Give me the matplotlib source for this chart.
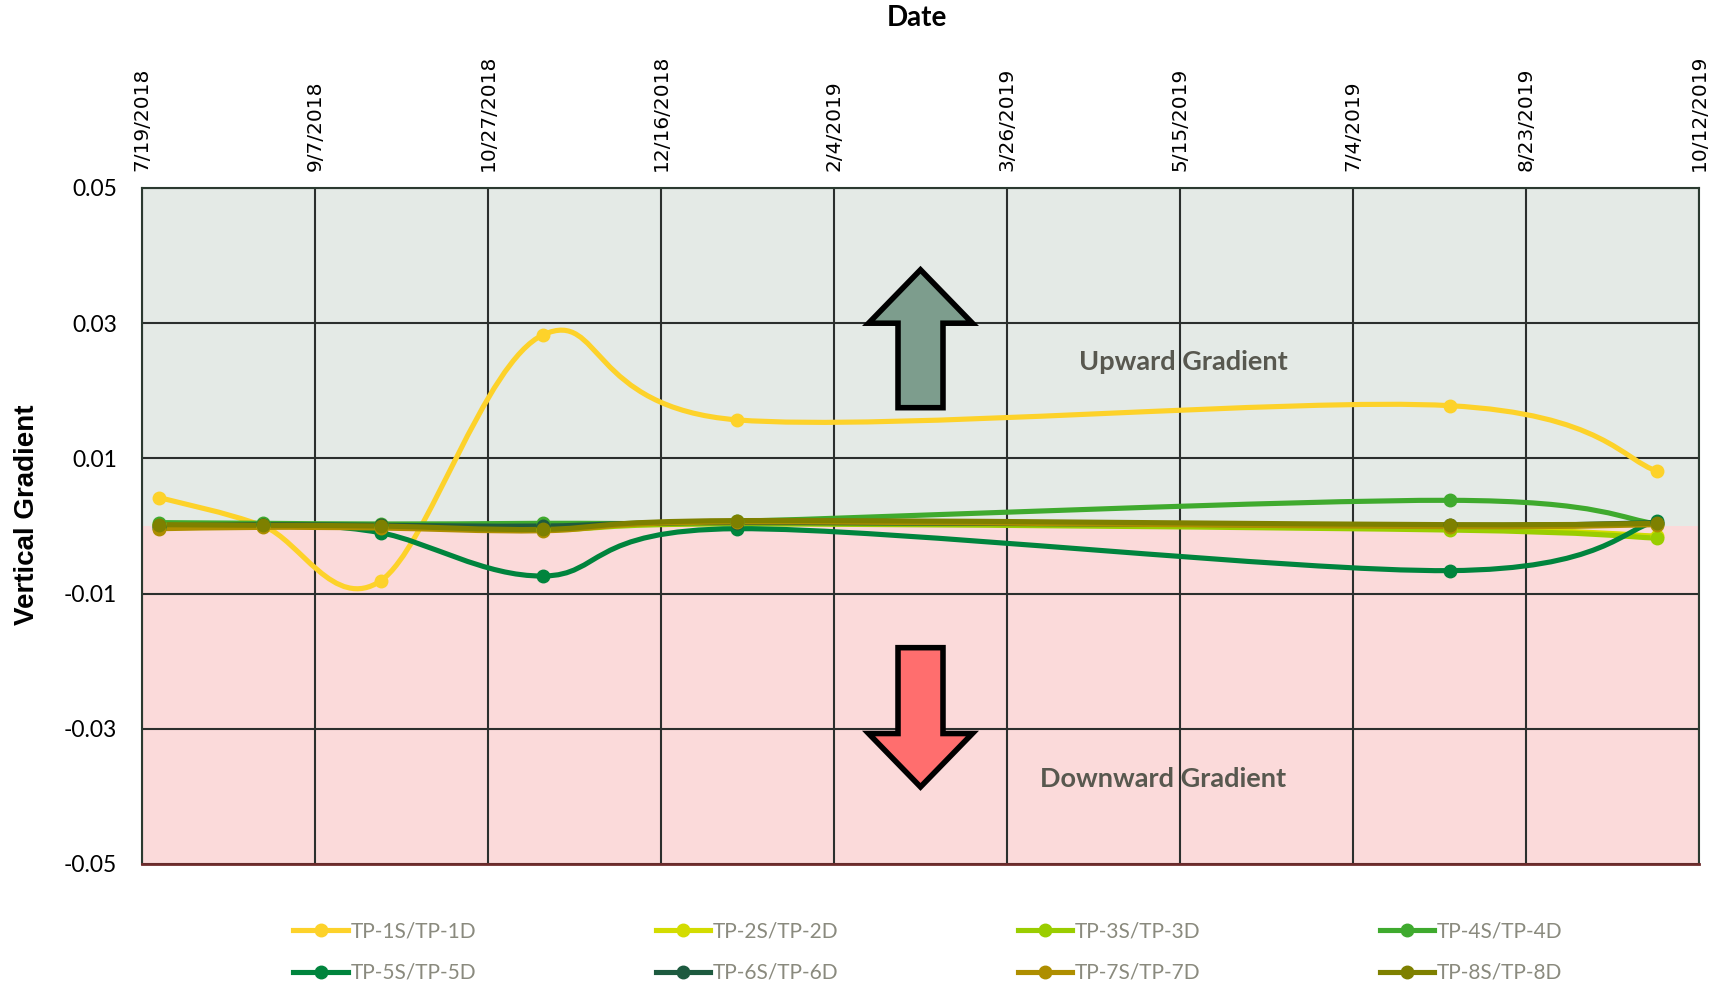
import numpy as np
import matplotlib
matplotlib.use("Agg")
import matplotlib.pyplot as plt
import matplotlib.dates as mdates
from matplotlib.path import Path
from matplotlib.patches import PathPatch
import datetime as dt

# sample dates and vertical gradients
sample_dates = ["2018-07-24", "2018-08-23", "2018-09-26", "2018-11-12",
                "2019-01-07", "2019-08-01", "2019-09-30"]
tp1 = [0.0042, 0.0000, -0.0081, 0.0283, 0.0157, 0.0178, 0.0081]
tp2 = [0.0003, 0.0001, 0.0000, -0.0004, 0.0004, -0.0004, -0.0015]
tp3 = [0.0002, 0.0000, 0.0001, -0.0006, 0.0003, -0.0006, -0.0018]
tp4 = [0.0005, 0.0004, 0.0003, 0.0004, 0.0007, 0.0038, 0.0003]
tp5 = [-0.0003, 0.0001, -0.0010, -0.0074, -0.0004, -0.0066, 0.0008]
tp6 = [0.0000, 0.0002, 0.0001, 0.0000, 0.0005, 0.0001, 0.0005]
tp7 = [-0.0004, -0.0002, -0.0003, -0.0007, 0.0006, -0.0001, 0.0002]
tp8 = [0.0002, 0.0001, 0.0000, -0.0005, 0.0008, 0.0002, 0.0004]

labels = ["TP-1S/TP-1D", "TP-2S/TP-2D", "TP-3S/TP-3D", "TP-4S/TP-4D",
          "TP-5S/TP-5D", "TP-6S/TP-6D", "TP-7S/TP-7D", "TP-8S/TP-8D"]
series = [tp1, tp2, tp3, tp4, tp5, tp6, tp7, tp8]
colors = ["#FDD22A", "#D3DC00", "#9ACD00", "#3FAA2E",
          "#00843D", "#1D5A3F", "#AE8E00", "#7E8000"]

y_ticks = [0.05, 0.03, 0.01, -0.01, -0.03, -0.05]
x_start = dt.date(2018, 7, 19)
x_step_days = 50
n_x_ticks = 10

calibri_like = ["Lato", "DejaVu Sans"]


def smooth_path(x, y):
    # excel-style smoothed line: cubic bezier through the points
    x = np.asarray(x, dtype=float)
    y = np.asarray(y, dtype=float)
    pts = np.column_stack([x, y])
    n = len(pts)
    verts = [pts[0]]
    codes = [Path.MOVETO]
    for i in range(n - 1):
        p0 = pts[i - 1] if i > 0 else pts[i]
        p1 = pts[i]
        p2 = pts[i + 1]
        p3 = pts[i + 2] if i + 2 < n else pts[i + 1]
        c1 = p1 + (p2 - p0) / 6.0
        c2 = p2 - (p3 - p1) / 6.0
        verts += [c1, c2, p2]
        codes += [Path.CURVE4] * 3
    return Path(verts, codes)


xd = mdates.date2num([dt.date.fromisoformat(d) for d in sample_dates])
x_ticks = [x_start + dt.timedelta(days=x_step_days * i) for i in range(n_x_ticks)]
x_tick_nums = mdates.date2num(x_ticks)

fig = plt.figure(figsize=(17.17, 9.89), dpi=100)
ax = fig.add_axes([142 / 1717, 1 - 864 / 989, (1699 - 142) / 1717, (864 - 188) / 989])

ax.set_xlim(x_tick_nums[0], x_tick_nums[-1])
ax.set_ylim(-0.05, 0.05)

# background zones
ax.axhspan(0, 0.05, facecolor="#e4eae6", edgecolor="none", zorder=0)
ax.axhspan(-0.05, 0, facecolor="#fbdada", edgecolor="none", zorder=0)

ax.set_xticks(x_tick_nums)
ax.set_yticks(y_ticks)
ax.grid(True, color="#2b2f2d", linewidth=1.5, zorder=1)
ax.set_axisbelow(True)

for y, c, lab in zip(series, colors, labels):
    patch = PathPatch(smooth_path(xd, y), facecolor="none", edgecolor=c,
                      linewidth=3.7, capstyle="round", joinstyle="round", zorder=3)
    ax.add_patch(patch)
    ax.plot(xd, y, linestyle="none", marker="o", markersize=9, color=c, zorder=4)

# arrows
arrow_x = mdates.date2num(dt.date(2019, 3, 1))
ax.arrow(arrow_x, 0.0175, 0, 0.0204, width=13, head_width=30, head_length=0.0079,
         length_includes_head=True, facecolor="#7d9d8d", edgecolor="black",
         linewidth=4, zorder=5)
ax.arrow(arrow_x, -0.018, 0, -0.0206, width=13, head_width=30, head_length=0.0079,
         length_includes_head=True, facecolor="#ff6e6e", edgecolor="black",
         linewidth=4, zorder=5)

ax.text(mdates.date2num(dt.date(2019, 5, 16)), 0.0243, "Upward Gradient",
        ha="center", va="center", fontsize=19.5, fontweight="bold",
        color="#58584f", family=calibri_like, zorder=6)
ax.text(mdates.date2num(dt.date(2019, 5, 10)), -0.0374, "Downward Gradient",
        ha="center", va="center", fontsize=19.5, fontweight="bold",
        color="#58584f", family=calibri_like, zorder=6)

# axes styling
ax.xaxis.tick_top()
ax.set_xticklabels([f"{d.month}/{d.day}/{d.year}" for d in x_ticks],
                   rotation=90, fontsize=14.5, family="DejaVu Sans")
ax.set_yticklabels([f"{v:.2f}" for v in y_ticks], fontsize=16.5, family=calibri_like)
ax.tick_params(axis="both", length=0)
ax.tick_params(axis="x", pad=12)
ax.tick_params(axis="y", pad=18)
for side in ["top", "left", "right"]:
    ax.spines[side].set_color("#2b3a30")
    ax.spines[side].set_linewidth(1.5)
ax.spines["bottom"].set_color("#6e2b2b")
ax.spines["bottom"].set_linewidth(2)

fig.text(917 / 1717, 1 - 18 / 989, "Date", ha="center", va="center",
         fontsize=20, fontweight="bold", family=calibri_like)
fig.text(27 / 1717, 1 - 515 / 989, "Vertical Gradient", ha="center", va="center",
         rotation=90, fontsize=20, fontweight="bold", family="Liberation Sans")

# legend fills columns first, so reorder to read row by row
order = [0, 4, 1, 5, 2, 6, 3, 7]
handles = [plt.Line2D([], [], color=colors[i], linewidth=3.7, marker="o", markersize=9)
           for i in order]
leg = fig.legend(handles, [labels[i] for i in order], loc="center", ncol=4,
                 bbox_to_anchor=(928 / 1717, 1 - 952 / 989), frameon=False,
                 handlelength=2.6, handletextpad=0.15,
                 columnspacing=8.6, labelspacing=1.05,
                 prop={"family": calibri_like, "size": 15})
for t in leg.get_texts():
    t.set_color("#8a8a7e")

fig.savefig("out.png", dpi=100)
